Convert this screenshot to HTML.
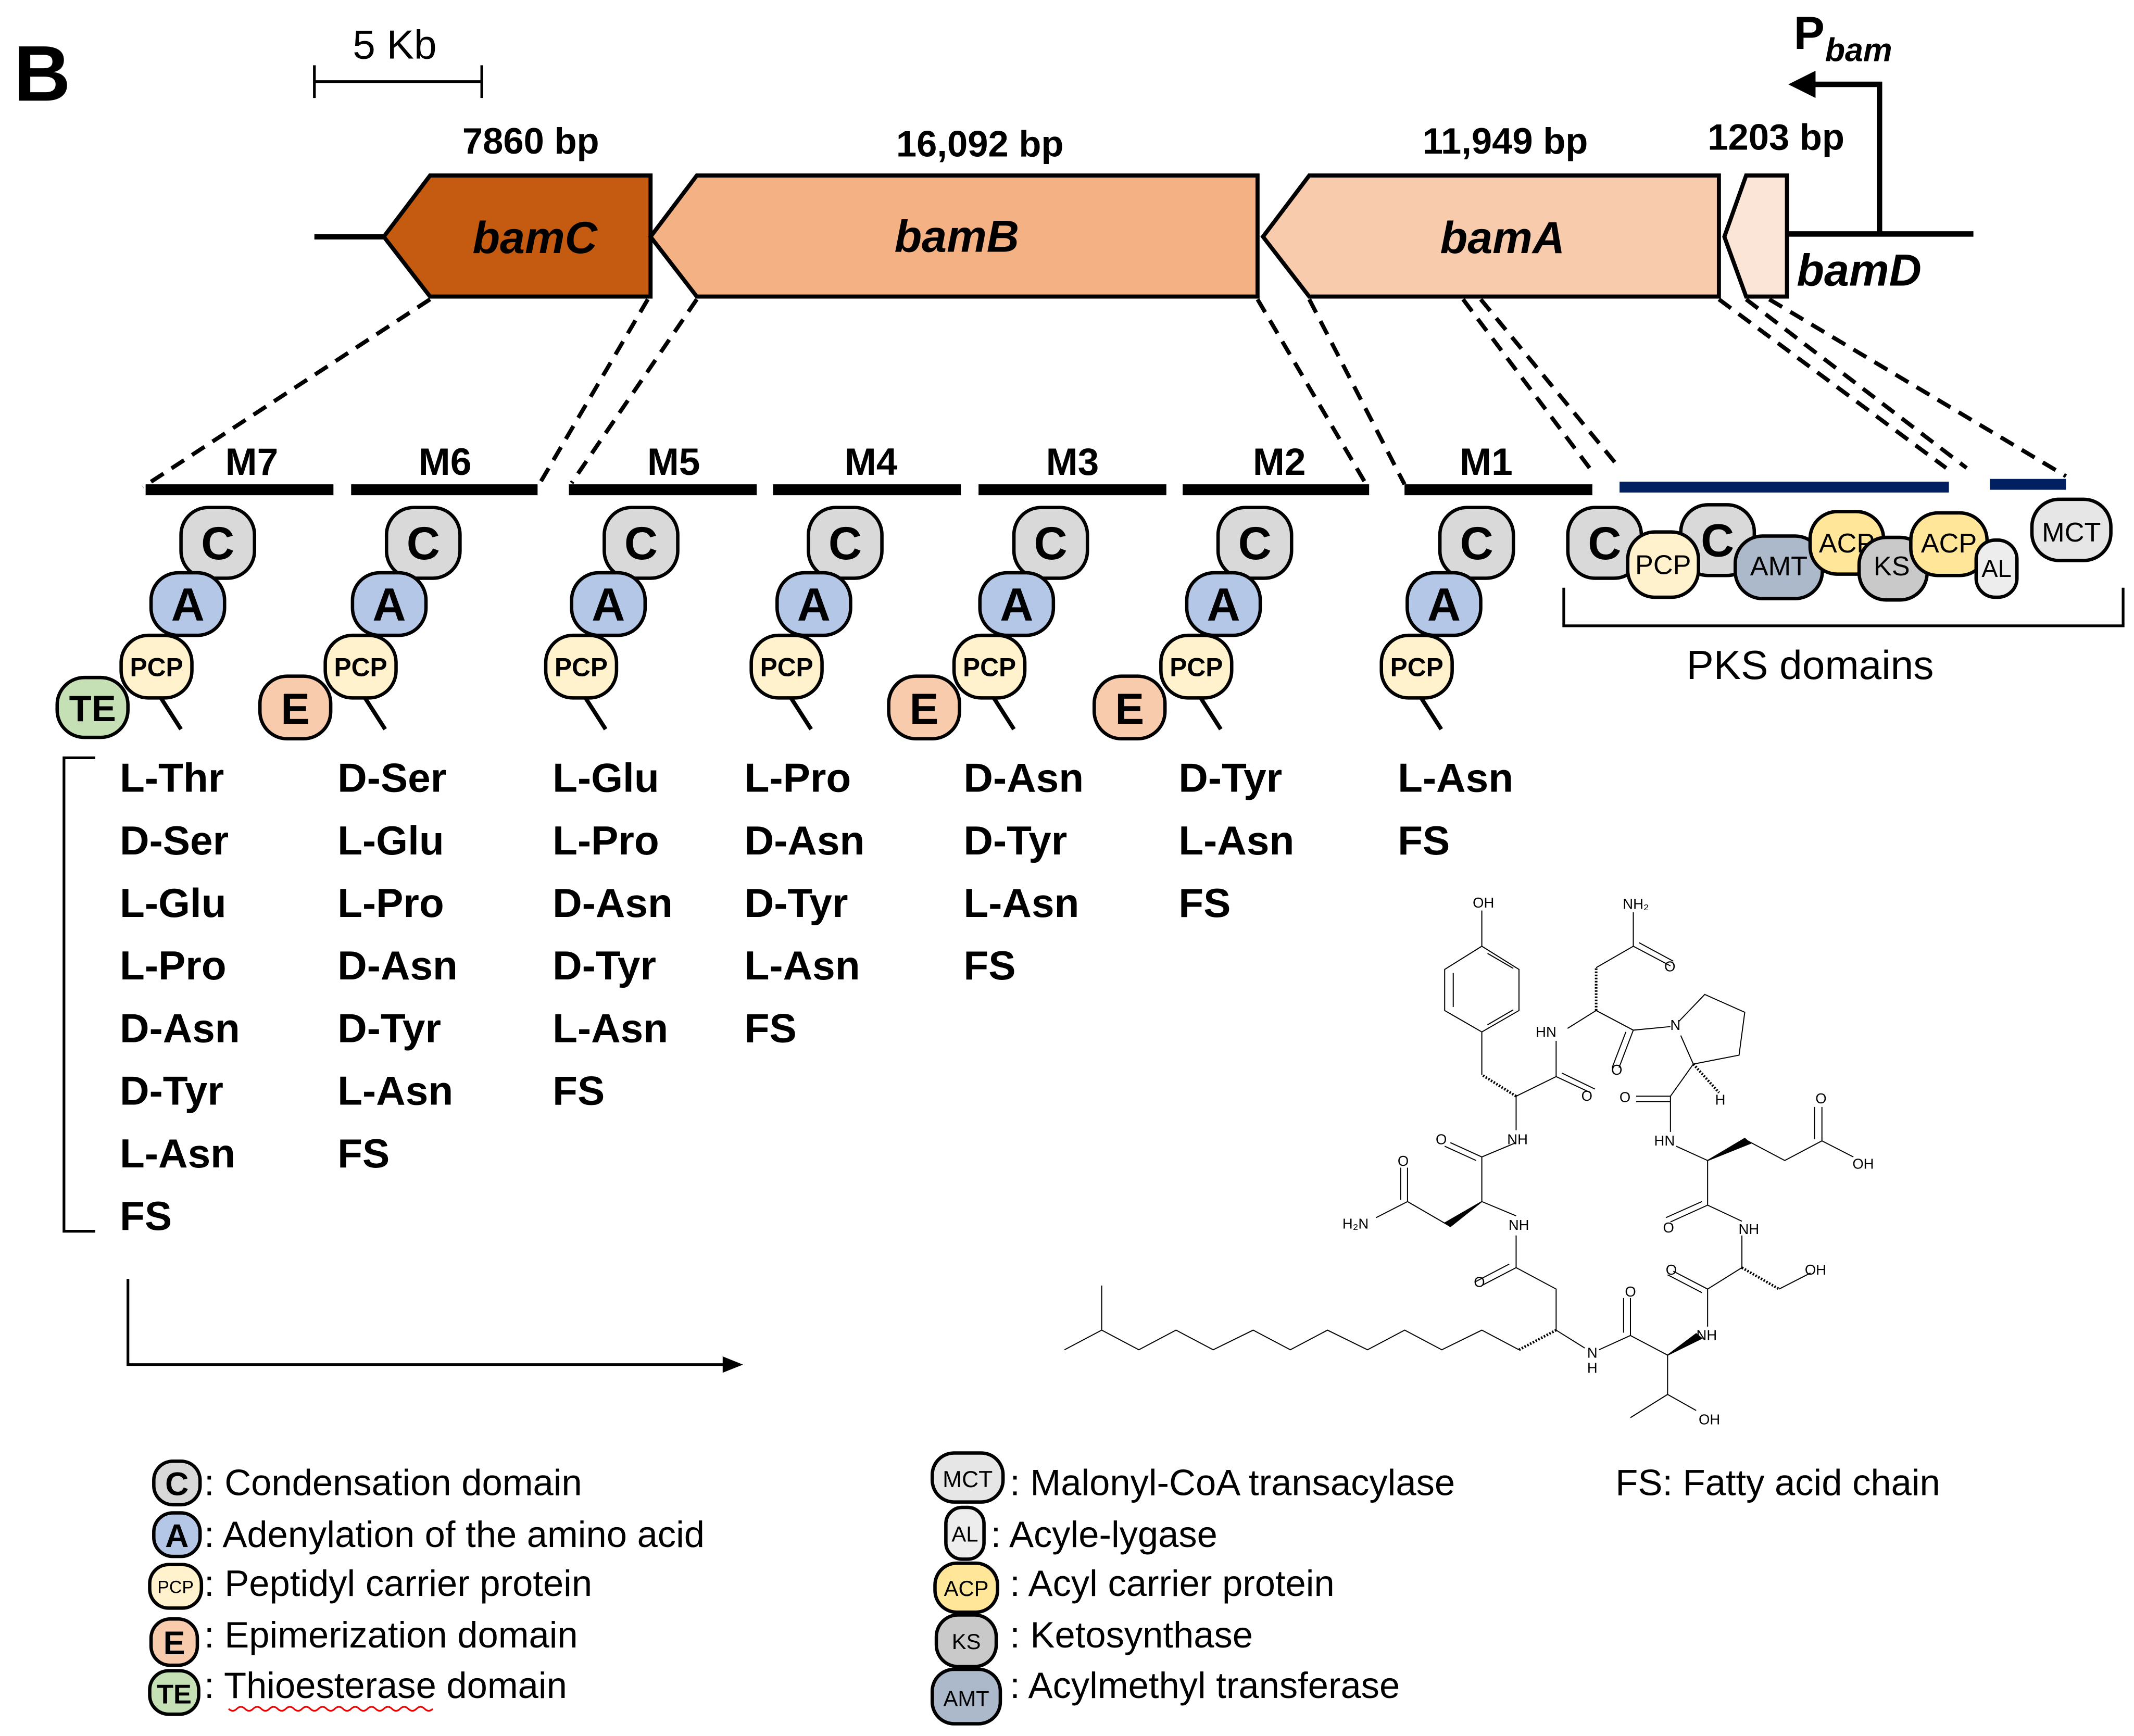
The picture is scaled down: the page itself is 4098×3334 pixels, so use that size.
<!DOCTYPE html>
<html><head><meta charset="utf-8"><style>
html,body{margin:0;padding:0;background:#fff;}
svg{display:block;}
text{font-family:"Liberation Sans",sans-serif;}
.b{font-weight:bold;}
.aa{font-weight:bold;font-size:30px;}
.lg{font-size:27px;}
.dm{stroke:#000;stroke-width:2.5;}
</style></head><body>
<svg width="4098" height="3334" viewBox="0 0 1568 1276" preserveAspectRatio="none" xmlns="http://www.w3.org/2000/svg">
<rect width="1568" height="1276" fill="#fff"/>
<text x="10" y="74" class="b" font-size="58">B</text>
<!-- scale bar -->
<text x="290" y="43" font-size="30" text-anchor="middle">5 Kb</text>
<g stroke="#000" stroke-width="2"><line x1="231" y1="60" x2="354" y2="60"/><line x1="231" y1="48" x2="231" y2="72"/><line x1="354" y1="48" x2="354" y2="72"/></g>
<!-- gene line -->
<g stroke="#000" stroke-width="4"><line x1="231" y1="174" x2="284" y2="174"/><line x1="1313" y1="172" x2="1450" y2="172"/>
<polyline points="1381,172 1381,62 1330,62" fill="none"/></g>
<polygon points="1314,62 1334,52 1334,72" fill="#000"/>
<text x="1318" y="36" class="b" font-size="34">P</text><text x="1341" y="45" class="b" font-size="24" font-style="italic">bam</text>
<g stroke="#000" stroke-width="3">
<polygon points="282,174 316,129 478,129 478,218 316,218" fill="#c55a11"/>
<polygon points="478,174 512,129 924,129 924,218 512,218" fill="#f4b183"/>
<polygon points="928,174 962,129 1263,129 1263,218 962,218" fill="#f8cbad"/>
<polygon points="1267,174 1283,129 1313,129 1313,218 1283,218" fill="#fbe5d6"/>
</g>
<g class="b" font-style="italic" font-size="33" text-anchor="middle">
<text x="393" y="186">bamC</text><text x="703" y="185">bamB</text><text x="1104" y="186">bamA</text><text x="1366" y="210">bamD</text></g>
<g class="b" font-size="27" text-anchor="middle">
<text x="390" y="113">7860 bp</text><text x="720" y="115">16,092 bp</text><text x="1106" y="113">11,949 bp</text><text x="1305" y="110">1203 bp</text></g>
<!-- dashed -->
<g stroke="#000" stroke-width="3" stroke-dasharray="11,7">
<line x1="316" y1="220" x2="105" y2="358"/><line x1="476" y1="220" x2="395" y2="358"/>
<line x1="512" y1="220" x2="420" y2="355"/><line x1="924" y1="220" x2="1005" y2="358"/>
<line x1="962" y1="220" x2="1032" y2="356"/><line x1="1075" y1="220" x2="1168" y2="344"/>
<line x1="1088" y1="220" x2="1190" y2="344"/><line x1="1263" y1="220" x2="1430" y2="344"/>
<line x1="1283" y1="220" x2="1445" y2="344"/><line x1="1300" y1="220" x2="1518" y2="350"/>
</g>
<!-- module bars -->
<g stroke="#000" stroke-width="8">
<line x1="107" y1="360" x2="245" y2="360"/><line x1="258" y1="360" x2="395" y2="360"/>
<line x1="418" y1="360" x2="556" y2="360"/><line x1="568" y1="360" x2="706" y2="360"/>
<line x1="719" y1="360" x2="857" y2="360"/><line x1="869" y1="360" x2="1006" y2="360"/>
<line x1="1032" y1="360" x2="1170" y2="360"/></g>
<g stroke="#002060" stroke-width="8"><line x1="1190" y1="358" x2="1432" y2="358"/><line x1="1462" y1="356" x2="1518" y2="356"/></g>
<g class="b" font-size="28" text-anchor="middle">
<text x="185" y="349">M7</text><text x="327" y="349">M6</text><text x="495" y="349">M5</text><text x="640" y="349">M4</text><text x="788" y="349">M3</text><text x="940" y="349">M2</text><text x="1092" y="349">M1</text></g>

<defs>
<g id="C"><rect x="-27" y="-26" width="54" height="52" rx="20" fill="#d9d9d9" class="dm"/><text y="12" class="b" font-size="34" text-anchor="middle">C</text></g>
<g id="A"><rect x="-27" y="-23" width="54" height="46" rx="20" fill="#b4c7e7" class="dm"/><text y="12" class="b" font-size="34" text-anchor="middle">A</text></g>
<g id="P"><rect x="-26" y="-23" width="52" height="46" rx="20" fill="#fff2cc" class="dm"/><text y="7" class="b" font-size="19" text-anchor="middle">PCP</text></g>
<g id="E"><rect x="-26" y="-23" width="52" height="46" rx="20" fill="#f8cbad" class="dm"/><text y="12" class="b" font-size="32" text-anchor="middle">E</text></g>
<g id="T"><rect x="-26" y="-22" width="52" height="44" rx="20" fill="#c5e0b4" class="dm"/><text y="10" class="b" font-size="27" text-anchor="middle">TE</text></g>
</defs>
<g stroke="#000" stroke-width="3">
<line x1="115" y1="508" x2="133" y2="536"/><line x1="265" y1="508" x2="283" y2="536"/><line x1="427" y1="508" x2="445" y2="536"/>
<line x1="578" y1="508" x2="596" y2="536"/><line x1="727" y1="508" x2="745" y2="536"/><line x1="879" y1="508" x2="897" y2="536"/><line x1="1041" y1="508" x2="1059" y2="536"/></g>
<use href="#C" x="160" y="399"/><use href="#A" x="138" y="444"/><use href="#T" x="68" y="520"/><use href="#P" x="115" y="490"/>
<use href="#C" x="311" y="399"/><use href="#A" x="286" y="444"/><use href="#E" x="217" y="520"/><use href="#P" x="265" y="490"/>
<use href="#C" x="471" y="399"/><use href="#A" x="447" y="444"/><use href="#P" x="427" y="490"/>
<use href="#C" x="621" y="399"/><use href="#A" x="598" y="444"/><use href="#P" x="578" y="490"/>
<use href="#C" x="772" y="399"/><use href="#A" x="747" y="444"/><use href="#E" x="679" y="520"/><use href="#P" x="727" y="490"/>
<use href="#C" x="922" y="399"/><use href="#A" x="899" y="444"/><use href="#E" x="830" y="520"/><use href="#P" x="879" y="490"/>
<use href="#C" x="1085" y="399"/><use href="#A" x="1061" y="444"/><use href="#P" x="1041" y="490"/>

<!-- PKS -->
<rect x="1152" y="373" width="54" height="52" rx="20" fill="#d9d9d9" class="dm"/><text x="1179" y="411" class="b" font-size="34" text-anchor="middle">C</text>
<rect x="1235" y="371" width="54" height="52" rx="20" fill="#d9d9d9" class="dm"/><text x="1262" y="409" class="b" font-size="34" text-anchor="middle">C</text>
<rect x="1196" y="391" width="52" height="48" rx="20" fill="#fff2cc" class="dm"/><text x="1222" y="422" font-size="20" text-anchor="middle">PCP</text>
<rect x="1275" y="394" width="64" height="46" rx="20" fill="#acb9ca" class="dm"/><text x="1307" y="423" font-size="20" text-anchor="middle">AMT</text>
<rect x="1330" y="376" width="54" height="46" rx="20" fill="#ffe699" class="dm"/><text x="1357" y="406" font-size="20" text-anchor="middle">ACP</text>
<rect x="1366" y="395" width="50" height="46" rx="20" fill="#c9c9c9" class="dm"/><text x="1390" y="423" font-size="20" text-anchor="middle">KS</text>
<rect x="1404" y="377" width="56" height="46" rx="20" fill="#ffe699" class="dm"/><text x="1432" y="406" font-size="20" text-anchor="middle">ACP</text>
<rect x="1452" y="397" width="30" height="42" rx="14" fill="#ededed" class="dm"/><text x="1467" y="424" font-size="18" text-anchor="middle">AL</text>
<rect x="1493" y="367" width="58" height="45" rx="20" fill="#e7e6e6" class="dm"/><text x="1522" y="398" font-size="20" text-anchor="middle">MCT</text>
<polyline points="1149,432 1149,460 1560,460 1560,432" fill="none" stroke="#000" stroke-width="2"/>
<text x="1330" y="499" font-size="30" text-anchor="middle">PKS domains</text>

<!-- amino acid lists -->
<g class="aa">
<text x="88" y="582">L-Thr</text><text x="88" y="628">D-Ser</text><text x="88" y="674">L-Glu</text><text x="88" y="720">L-Pro</text><text x="88" y="766">D-Asn</text><text x="88" y="812">D-Tyr</text><text x="88" y="858">L-Asn</text><text x="88" y="904">FS</text>
<text x="248" y="582">D-Ser</text><text x="248" y="628">L-Glu</text><text x="248" y="674">L-Pro</text><text x="248" y="720">D-Asn</text><text x="248" y="766">D-Tyr</text><text x="248" y="812">L-Asn</text><text x="248" y="858">FS</text>
<text x="406" y="582">L-Glu</text><text x="406" y="628">L-Pro</text><text x="406" y="674">D-Asn</text><text x="406" y="720">D-Tyr</text><text x="406" y="766">L-Asn</text><text x="406" y="812">FS</text>
<text x="547" y="582">L-Pro</text><text x="547" y="628">D-Asn</text><text x="547" y="674">D-Tyr</text><text x="547" y="720">L-Asn</text><text x="547" y="766">FS</text>
<text x="708" y="582">D-Asn</text><text x="708" y="628">D-Tyr</text><text x="708" y="674">L-Asn</text><text x="708" y="720">FS</text>
<text x="866" y="582">D-Tyr</text><text x="866" y="628">L-Asn</text><text x="866" y="674">FS</text>
<text x="1027" y="582">L-Asn</text><text x="1027" y="628">FS</text>
</g>
<polyline points="70,557 47,557 47,905 70,905" fill="none" stroke="#000" stroke-width="2"/>
<polyline points="94,940 94,1003 532,1003" fill="none" stroke="#000" stroke-width="2"/>
<polygon points="546,1003 531,997 531,1009" fill="#000"/>

<!-- structure -->
<g transform="translate(765.4,643) scale(0.42,0.2625)" fill="none" stroke="#000" stroke-width="2" vector-effect="non-scaling-stroke">
<g vector-effect="non-scaling-stroke">
<polyline vector-effect="non-scaling-stroke" points="40,1330 105,1275 170,1330 235,1275 300,1330 370,1275 435,1330 500,1275 570,1330 635,1275 700,1330 770,1275 835,1330"/>
<line vector-effect="non-scaling-stroke" x1="105" y1="1275" x2="105" y2="1150"/>
<line vector-effect="non-scaling-stroke" x1="835" y1="1330" x2="900" y2="1275" stroke-dasharray="3,3" stroke-width="5"/>
<polyline vector-effect="non-scaling-stroke" points="900,1275 900,1160 830,1100 830,1010"/>
<line vector-effect="non-scaling-stroke" x1="830" y1="1100" x2="770" y2="1150"/><line vector-effect="non-scaling-stroke" x1="818" y1="1090" x2="758" y2="1140"/>
<line vector-effect="non-scaling-stroke" x1="830" y1="955" x2="770" y2="915"/>
<polygon vector-effect="non-scaling-stroke" points="770,915 705,975 715,985" fill="#000"/>
<polyline vector-effect="non-scaling-stroke" points="710,980 640,915 640,820"/><line vector-effect="non-scaling-stroke" x1="628" y1="910" x2="628" y2="820"/>
<line vector-effect="non-scaling-stroke" x1="640" y1="915" x2="585" y2="960"/>
<polyline vector-effect="non-scaling-stroke" points="770,915 770,790 830,750"/>
<line vector-effect="non-scaling-stroke" x1="770" y1="790" x2="715" y2="750"/><line vector-effect="non-scaling-stroke" x1="760" y1="800" x2="705" y2="760"/>
<line vector-effect="non-scaling-stroke" x1="830" y1="715" x2="830" y2="620"/>
<line vector-effect="non-scaling-stroke" x1="830" y1="620" x2="770" y2="560" stroke-dasharray="3,3" stroke-width="5"/>
<line vector-effect="non-scaling-stroke" x1="770" y1="560" x2="770" y2="440"/>
<polygon vector-effect="non-scaling-stroke" points="770,440 835,380 835,265 770,200 705,265 705,380"/>
<line vector-effect="non-scaling-stroke" x1="720" y1="275" x2="720" y2="370"/><line vector-effect="non-scaling-stroke" x1="780" y1="420" x2="825" y2="378"/><line vector-effect="non-scaling-stroke" x1="780" y1="220" x2="825" y2="262"/>
<line vector-effect="non-scaling-stroke" x1="770" y1="200" x2="770" y2="100"/>
<polyline vector-effect="non-scaling-stroke" points="830,620 900,565 960,610"/><line vector-effect="non-scaling-stroke" x1="910" y1="555" x2="968" y2="600"/>
<line vector-effect="non-scaling-stroke" x1="900" y1="565" x2="900" y2="465"/>
<line vector-effect="non-scaling-stroke" x1="920" y1="430" x2="970" y2="380"/>
<line vector-effect="non-scaling-stroke" x1="970" y1="380" x2="970" y2="260" stroke-dasharray="3,3" stroke-width="5"/>
<polyline vector-effect="non-scaling-stroke" points="970,260 1035,200 1100,255"/><line vector-effect="non-scaling-stroke" x1="1045" y1="190" x2="1105" y2="242"/>
<line vector-effect="non-scaling-stroke" x1="1035" y1="200" x2="1035" y2="105"/>
<polyline vector-effect="non-scaling-stroke" points="970,380 1035,435 1100,425"/>
<line vector-effect="non-scaling-stroke" x1="1035" y1="435" x2="1010" y2="540"/><line vector-effect="non-scaling-stroke" x1="1022" y1="440" x2="998" y2="540"/>
<polyline vector-effect="non-scaling-stroke" points="1115,410 1160,335 1230,385 1220,505 1140,530 1118,450"/>
<line vector-effect="non-scaling-stroke" x1="1140" y1="530" x2="1185" y2="610" stroke-dasharray="3,3" stroke-width="5"/>
<polyline vector-effect="non-scaling-stroke" points="1140,530 1100,620 1040,620"/><line vector-effect="non-scaling-stroke" x1="1100" y1="635" x2="1040" y2="635"/>
<line vector-effect="non-scaling-stroke" x1="1100" y1="620" x2="1100" y2="720"/>
<line vector-effect="non-scaling-stroke" x1="1110" y1="760" x2="1165" y2="800"/>
<polygon vector-effect="non-scaling-stroke" points="1165,800 1230,738 1240,752" fill="#000"/>
<polyline vector-effect="non-scaling-stroke" points="1235,745 1300,800 1365,745 1365,650"/><line vector-effect="non-scaling-stroke" x1="1352" y1="740" x2="1352" y2="650"/>
<line vector-effect="non-scaling-stroke" x1="1365" y1="745" x2="1420" y2="790"/>
<polyline vector-effect="non-scaling-stroke" points="1165,800 1165,925 1225,970"/>
<line vector-effect="non-scaling-stroke" x1="1165" y1="925" x2="1100" y2="972"/><line vector-effect="non-scaling-stroke" x1="1155" y1="915" x2="1092" y2="960"/>
<line vector-effect="non-scaling-stroke" x1="1225" y1="1010" x2="1225" y2="1100"/>
<line vector-effect="non-scaling-stroke" x1="1225" y1="1100" x2="1290" y2="1160" stroke-dasharray="3,3" stroke-width="5"/>
<line vector-effect="non-scaling-stroke" x1="1290" y1="1160" x2="1345" y2="1115"/>
<polyline vector-effect="non-scaling-stroke" points="1225,1100 1165,1160 1165,1265"/>
<line vector-effect="non-scaling-stroke" x1="1165" y1="1160" x2="1105" y2="1110"/><line vector-effect="non-scaling-stroke" x1="1155" y1="1170" x2="1095" y2="1120"/>
<polygon vector-effect="non-scaling-stroke" points="1095,1345 1145,1285 1155,1298" fill="#000"/>
<polyline vector-effect="non-scaling-stroke" points="1095,1345 1030,1290 1030,1185"/><line vector-effect="non-scaling-stroke" x1="1018" y1="1282" x2="1018" y2="1185"/>
<line vector-effect="non-scaling-stroke" x1="1030" y1="1290" x2="975" y2="1330"/>
<line vector-effect="non-scaling-stroke" x1="950" y1="1325" x2="900" y2="1275"/>
<polyline vector-effect="non-scaling-stroke" points="1095,1345 1095,1455 1030,1520"/>
<line vector-effect="non-scaling-stroke" x1="1095" y1="1455" x2="1145" y2="1500"/>
</g>
</g>
<g font-size="10.5" text-anchor="middle">
<text x="1090" y="667">OH</text><text x="1202" y="668">NH₂</text><text x="1227" y="714">O</text>
<text x="1136" y="762">HN</text><text x="1231" y="757">N</text><text x="1188" y="790">O</text>
<text x="1166" y="809">O</text><text x="1194" y="810">O</text><text x="1264" y="812">H</text><text x="1338" y="811">O</text>
<text x="1115" y="841">NH</text><text x="1223" y="842">HN</text><text x="1059" y="841">O</text><text x="1369" y="859">OH</text>
<text x="1031" y="857">O</text><text x="996" y="903">H₂N</text><text x="1116" y="904">NH</text><text x="1226" y="906">O</text><text x="1285" y="907">NH</text>
<text x="1228" y="937">O</text><text x="1334" y="937">OH</text><text x="1087" y="946">O</text><text x="1198" y="953">O</text>
<text x="1254" y="985">NH</text><text x="1170" y="998">N</text><text x="1170" y="1009">H</text><text x="1256" y="1047">OH</text>
</g>

<!-- legend -->
<g>
<rect x="113" y="1074" width="34" height="32" rx="14" fill="#d9d9d9" class="dm"/><text x="130" y="1099" class="b" font-size="24" text-anchor="middle">C</text>
<rect x="113" y="1112" width="34" height="32" rx="14" fill="#b4c7e7" class="dm"/><text x="130" y="1137" class="b" font-size="24" text-anchor="middle">A</text>
<rect x="110" y="1150" width="38" height="32" rx="14" fill="#fff2cc" class="dm"/><text x="129" y="1171" font-size="13" text-anchor="middle">PCP</text>
<rect x="111" y="1190" width="34" height="34" rx="14" fill="#f8cbad" class="dm"/><text x="128" y="1216" class="b" font-size="24" text-anchor="middle">E</text>
<rect x="110" y="1228" width="36" height="32" rx="14" fill="#c5e0b4" class="dm"/><text x="128" y="1252" class="b" font-size="20" text-anchor="middle">TE</text>
</g>
<g class="lg">
<text x="150" y="1099">: Condensation domain</text>
<text x="150" y="1137">: Adenylation of the amino acid</text>
<text x="150" y="1173">: Peptidyl carrier protein</text>
<text x="150" y="1211">: Epimerization domain</text>
<text x="150" y="1248">: Thioesterase domain</text>
<text x="742" y="1099">: Malonyl-CoA transacylase</text>
<text x="728" y="1137">:  Acyle-lygase</text>
<text x="742" y="1173">: Acyl carrier protein</text>
<text x="742" y="1211">: Ketosynthase</text>
<text x="742" y="1248">: Acylmethyl transferase</text>
<text x="1187" y="1099">FS: Fatty acid chain</text>
</g>
<path d="M168 1256 q3 3 6 0 t6 0 t6 0 t6 0 t6 0 t6 0 t6 0 t6 0 t6 0 t6 0 t6 0 t6 0 t6 0 t6 0 t6 0 t6 0 t6 0 t6 0 t6 0 t6 0 t6 0 t6 0 t6 0 t6 0 t6 0" fill="none" stroke="#e00" stroke-width="1.2"/>
<g>
<rect x="685" y="1068" width="52" height="36" rx="16" fill="#e7e6e6" class="dm"/><text x="711" y="1093" font-size="17" text-anchor="middle">MCT</text>
<rect x="695" y="1108" width="28" height="38" rx="12" fill="#ededed" class="dm"/><text x="709" y="1133" font-size="16" text-anchor="middle">AL</text>
<rect x="687" y="1149" width="46" height="36" rx="16" fill="#ffe699" class="dm"/><text x="710" y="1173" font-size="16" text-anchor="middle">ACP</text>
<rect x="688" y="1187" width="44" height="38" rx="16" fill="#c9c9c9" class="dm"/><text x="710" y="1212" font-size="16" text-anchor="middle">KS</text>
<rect x="685" y="1227" width="50" height="40" rx="16" fill="#acb9ca" class="dm"/><text x="710" y="1254" font-size="16" text-anchor="middle">AMT</text>
</g>
</svg>
</body></html>
